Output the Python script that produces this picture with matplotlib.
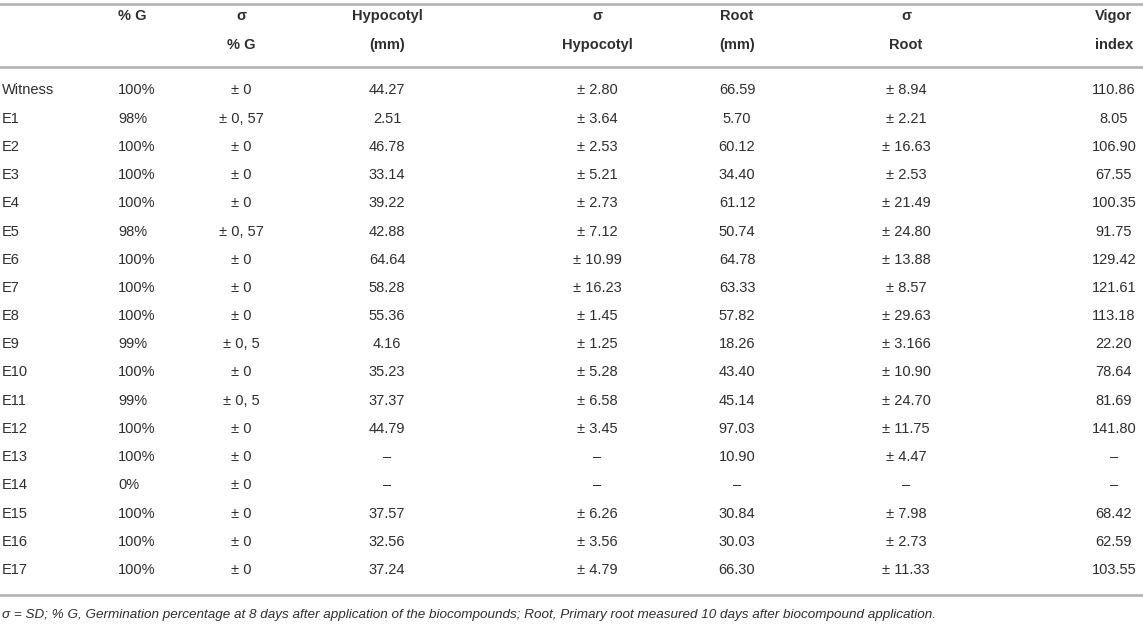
import matplotlib
matplotlib.use("Agg")
import matplotlib.pyplot as plt
from matplotlib.lines import Line2D

# table content
treatments = ["Witness", "E1", "E2", "E3", "E4", "E5", "E6", "E7", "E8", "E9",
              "E10", "E11", "E12", "E13", "E14", "E15", "E16", "E17"]
germ = ["100%", "98%", "100%", "100%", "100%", "98%", "100%", "100%", "100%", "99%",
        "100%", "99%", "100%", "100%", "0%", "100%", "100%", "100%"]
sd_germ = ["± 0", "± 0, 57", "± 0", "± 0", "± 0", "± 0, 57", "± 0", "± 0", "± 0", "± 0, 5",
           "± 0", "± 0, 5", "± 0", "± 0", "± 0", "± 0", "± 0", "± 0"]
hypocotyl = ["44.27", "2.51", "46.78", "33.14", "39.22", "42.88", "64.64", "58.28", "55.36",
             "4.16", "35.23", "37.37", "44.79", "–", "–", "37.57", "32.56", "37.24"]
sd_hypocotyl = ["± 2.80", "± 3.64", "± 2.53", "± 5.21", "± 2.73", "± 7.12", "± 10.99", "± 16.23",
                "± 1.45", "± 1.25", "± 5.28", "± 6.58", "± 3.45", "–", "–", "± 6.26", "± 3.56", "± 4.79"]
root = ["66.59", "5.70", "60.12", "34.40", "61.12", "50.74", "64.78", "63.33", "57.82", "18.26",
        "43.40", "45.14", "97.03", "10.90", "–", "30.84", "30.03", "66.30"]
sd_root = ["± 8.94", "± 2.21", "± 16.63", "± 2.53", "± 21.49", "± 24.80", "± 13.88", "± 8.57",
           "± 29.63", "± 3.166", "± 10.90", "± 24.70", "± 11.75", "± 4.47", "–", "± 7.98",
           "± 2.73", "± 11.33"]
vigor = ["110.86", "8.05", "106.90", "67.55", "100.35", "91.75", "129.42", "121.61", "113.18",
         "22.20", "78.64", "81.69", "141.80", "–", "–", "68.42", "62.59", "103.55"]
headers = ["", "% G", "σ\n% G", "Hypocotyl\n(mm)", "σ\nHypocotyl", "Root\n(mm)", "σ\nRoot", "Vigor\nindex"]
footnote = ("σ = SD; % G, Germination percentage at 8 days after application of the biocompounds; "
            "Root, Primary root measured 10 days after biocompound application.")

columns = [treatments, germ, sd_germ, hypocotyl, sd_hypocotyl, root, sd_root, vigor]

W, H = 1143, 628
fig = plt.figure(figsize=(W / 100, H / 100), dpi=100)
ax = fig.add_axes([0, 0, 1, 1])
ax.set_xlim(0, W)
ax.set_ylim(H, 0)
ax.axis("off")

plt.rcParams["font.family"] = ["Liberation Sans", "DejaVu Sans"]
txt = "#2e2e2e"
line_c = "#b5b5b5"

# column x position and alignment
col_x = [2, 118, 241, 387, 597, 737, 906, 1114]
col_ha = ["left", "left", "center", "center", "center", "center", "center", "center"]

# rules
for y in (3.5, 66.5, 594.5):
    ax.add_line(Line2D([0, W], [y, y], color=line_c, lw=2))

# headers
for x, ha, h in zip(col_x, col_ha, headers):
    if not h:
        continue
    parts = h.split("\n")
    ax.text(x, 16, parts[0], ha=ha, va="center", fontsize=10.5, fontweight="bold", color=txt)
    if len(parts) > 1:
        ax.text(x, 45, parts[1], ha=ha, va="center", fontsize=10.5, fontweight="bold", color=txt)

# body
y0, dy = 90.5, 28.2
for i in range(len(treatments)):
    y = y0 + i * dy
    for x, ha, col in zip(col_x, col_ha, columns):
        ax.text(x, y, col[i], ha=ha, va="center", fontsize=10.5, color=txt)

ax.text(2, 615, footnote, ha="left", va="center", fontsize=9.7, style="italic", color=txt)

fig.savefig("out.png", dpi=100)
